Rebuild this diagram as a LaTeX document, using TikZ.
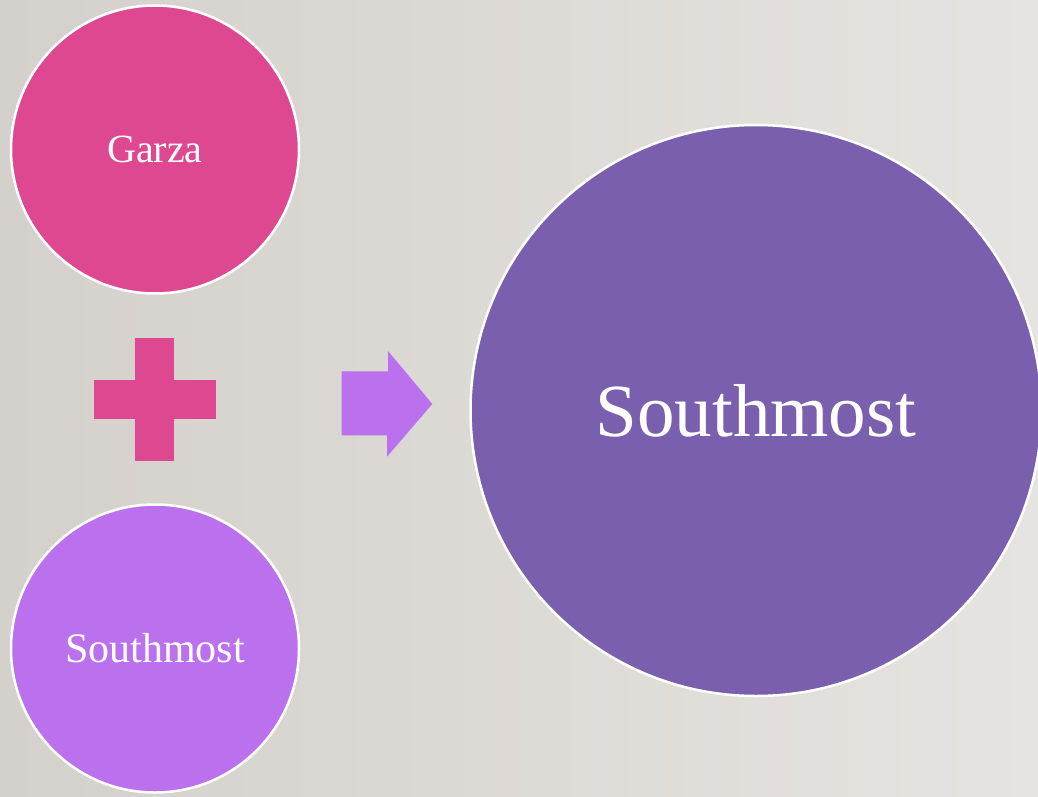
\documentclass[tikz,border=0pt]{standalone}
\usepackage{fontspec}
\setmainfont{Liberation Serif}
\usepackage{tikz}

\definecolor{garzapink}{HTML}{DE4890}
\definecolor{lilac}{HTML}{BB70EE}
\definecolor{southpurple}{HTML}{7A5FAE}
\definecolor{bgleft}{HTML}{D4D1CC}
\definecolor{bgright}{HTML}{E6E4E0}

\tikzset{
  bubble/.style={circle, draw=white, line width=2.5pt, inner sep=0pt, text=white}
}

\begin{document}
\begin{tikzpicture}[x=1pt, y=-1pt]
  \clip (0,0) rectangle (1038,797);
  \shade[left color=bgleft, right color=bgright] (0,0) rectangle (1038,797);

  \node[bubble, fill=garzapink, minimum size=288pt,
        font=\fontsize{40}{48}\selectfont] (garza) at (155,149.5) {Garza};
  \node[bubble, fill=lilac, minimum size=288pt,
        font=\fontsize{42}{50}\selectfont] (southsmall) at (155,648.5) {Southmost};
  \node[bubble, fill=southpurple, minimum size=571pt,
        font=\fontsize{75}{90}\selectfont] (southbig) at (756,410.5) {Southmost};

  % plus sign
  \fill[garzapink] (135.3,338.3) rectangle (174.3,461.3);
  \fill[garzapink] (94,380.3) rectangle (215.7,419.3);

  % arrow
  \fill[lilac] (341.7,371.3) -- (388,371.3) -- (388,351) -- (432.3,404)
    -- (387,456.7) -- (387,435.3) -- (341.7,435.3) -- cycle;
\end{tikzpicture}
\end{document}
